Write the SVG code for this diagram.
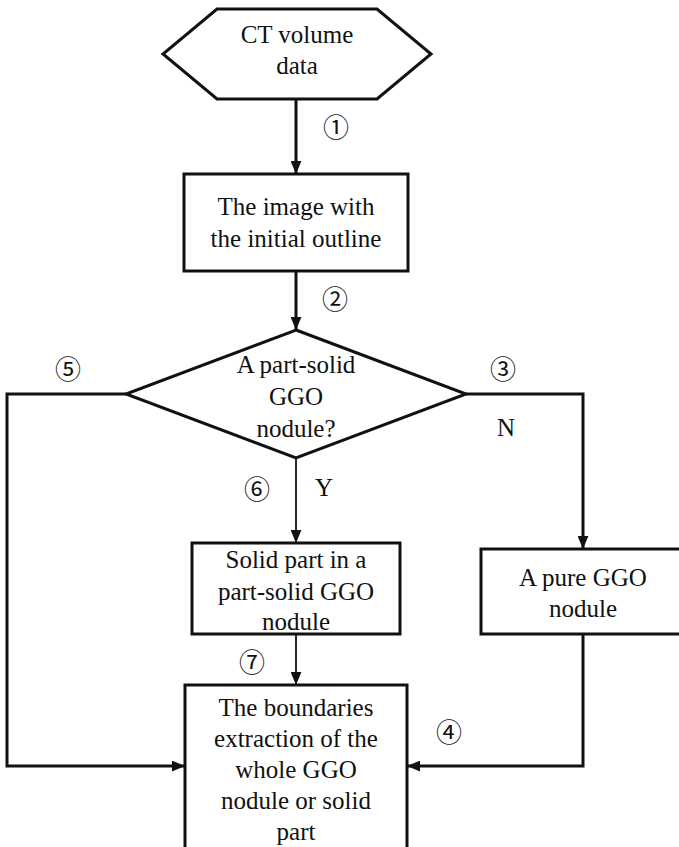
<svg xmlns="http://www.w3.org/2000/svg" width="679" height="847" viewBox="0 0 679 847">
<defs>
<marker id="ah" viewBox="0 0 12 10" refX="12" refY="5" markerWidth="13" markerHeight="11" markerUnits="userSpaceOnUse" orient="auto">
<path d="M0,0 L12,5 L0,10 Z" fill="#111"/>
</marker>
<style>
.shape{fill:#fff;stroke:#111;stroke-width:3}
.t{font-family:"Liberation Serif","Times New Roman",serif;font-size:25px;fill:#111;text-anchor:middle}
.c{font-family:"Noto Sans CJK SC","DejaVu Sans",sans-serif;font-size:26px;fill:#111;text-anchor:middle}
.ln{fill:none;stroke:#111;stroke-width:3}
.thin{fill:none;stroke:#111;stroke-width:1.8}
</style>
</defs>
<rect width="679" height="847" fill="#fff"/>
<g id="connectors">
<line class="ln" x1="296" y1="99" x2="296" y2="174" marker-end="url(#ah)"/>
<line class="ln" x1="296" y1="271" x2="296" y2="330" marker-end="url(#ah)"/>
<polyline class="ln" points="126,394 7,394 7,766 185,766" marker-end="url(#ah)"/>
<polyline class="ln" points="466,394 583,394 583,549" marker-end="url(#ah)"/>
<polyline class="ln" points="583,634 583,766 407,766" marker-end="url(#ah)"/>
<line class="thin" x1="296" y1="458" x2="296" y2="543" marker-end="url(#ah)"/>
<line class="thin" x1="296" y1="634" x2="296" y2="685" marker-end="url(#ah)"/>
<text class="c" x="336" y="137">①</text>
<text class="c" x="335" y="309">②</text>
<text class="c" x="503" y="379">③</text>
<text class="c" x="449" y="742">④</text>
<text class="c" x="68" y="379">⑤</text>
<text class="c" x="257" y="499">⑥</text>
<text class="c" x="252" y="672">⑦</text>
<text class="t" x="506" y="436">N</text>
<text class="t" x="324" y="496">Y</text>
</g>
<g id="n1">
<polygon class="shape" points="217,9 377,9 431,54 377,99 217,99 163,54"/>
<text class="t" x="297" y="43">CT volume</text>
<text class="t" x="297" y="74">data</text>
</g>
<g id="n2">
<rect class="shape" x="184" y="174" width="224" height="97"/>
<text class="t" x="296" y="215">The image with</text>
<text class="t" x="296" y="247">the initial outline</text>
</g>
<g id="n3">
<polygon class="shape" points="296,330 466,394 296,458 126,394"/>
<text class="t" x="296" y="373">A part-solid</text>
<text class="t" x="296" y="405">GGO</text>
<text class="t" x="296" y="437">nodule?</text>
</g>
<g id="n4">
<rect class="shape" x="192" y="543" width="208" height="91"/>
<text class="t" x="296" y="568">Solid part in a</text>
<text class="t" x="296" y="600">part-solid GGO</text>
<text class="t" x="296" y="630">nodule</text>
</g>
<g id="n5">
<rect class="shape" x="481" y="549" width="204" height="85"/>
<text class="t" x="583" y="586">A pure GGO</text>
<text class="t" x="583" y="617">nodule</text>
</g>
<g id="n6">
<rect class="shape" x="185" y="685" width="222" height="166"/>
<text class="t" x="296" y="716">The boundaries</text>
<text class="t" x="296" y="747">extraction of the</text>
<text class="t" x="296" y="778">whole GGO</text>
<text class="t" x="296" y="809">nodule or solid</text>
<text class="t" x="296" y="840">part</text>
</g>
</svg>
